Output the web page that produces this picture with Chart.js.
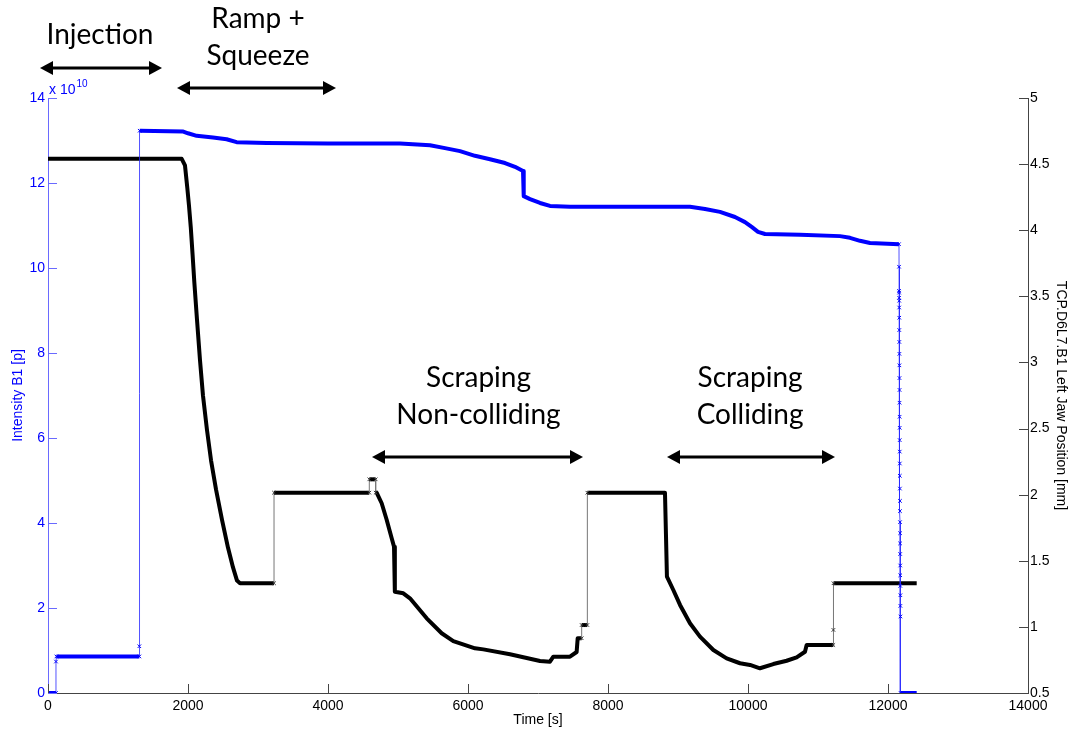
<!DOCTYPE html>
<html>
<head>
<meta charset="utf-8">
<script src="https://cdn.jsdelivr.net/npm/chart.js@4.4.0/dist/chart.umd.min.js"></script>
<style>
  body { margin: 0; background: #fff; }
  #wrap { width: 1071px; height: 731px; }
</style>
</head>
<body>
<div id="wrap"><canvas id="beamChart" width="1071" height="731"></canvas></div>
<script>
// Beam intensity B1 (units of 1e10 protons) vs time
const blueTime = [0, 114, 114, 120, 1305, 1305, 1310, 1933, 2000, 2124, 2357, 2552, 2695, 3124, 4000, 5029,
    5457, 5671, 5886, 6100, 6314, 6529, 6671, 6786, 6796, 6886, 7029, 7171, 7457, 8500, 9171, 9386, 9600,
    9814, 9957, 10057, 10143, 10243, 10743, 11314, 11457, 11600, 11743, 12157,
    12158, 12158, 12159, 12159, 12160, 12160, 12161, 12161, 12162, 12163, 12163, 12164, 12165, 12165, 12166,
    12167, 12167, 12168, 12169, 12169, 12170, 12171, 12171, 12172, 12173, 12173, 12174, 12175, 12175, 12176,
    12177, 12177, 12178, 12181, 12410];
const blueIntensity = [0, 0, 0.74, 0.86, 0.86, 1.1, 13.23, 13.21, 13.17, 13.11, 13.07, 13.03, 12.96, 12.94, 12.93, 12.93,
    12.89, 12.82, 12.75, 12.64, 12.56, 12.47, 12.38, 12.28, 11.69, 11.62, 11.53, 11.46, 11.44, 11.44, 11.44, 11.39, 11.32,
    11.2, 11.08, 10.96, 10.85, 10.80, 10.78, 10.75, 10.71, 10.64, 10.59, 10.56,
    10.03, 9.46, 9.42, 9.30, 9.23, 9.07, 8.83, 8.54, 8.26, 7.98, 7.71, 7.41, 7.13, 6.83, 6.50,
    6.24, 5.95, 5.68, 5.40, 5.11, 4.81, 4.52, 4.28, 4.02, 3.76, 3.52, 3.27, 3.00, 2.77, 2.52,
    2.30, 2.05, 1.80, 0, 0];

// TCP.D6L7.B1 left jaw position (mm) vs time
const blackTime = [0, 1910, 1957, 1990, 2015, 2040, 2065, 2090, 2129, 2171, 2214, 2271, 2329, 2400, 2486, 2571, 2643,
    2700, 2743, 3229, 3229, 4590, 4590, 4681, 4681, 4695, 4767, 4838, 4910, 4943, 4955, 5076, 5171, 5410,
    5624, 5790, 6100, 6219, 6600, 7029, 7171, 7219, 7457, 7552, 7567, 7624, 7624, 7705, 7705, 8814, 8828,
    8842, 8933, 9029, 9171, 9314, 9505, 9695, 9886, 10029, 10171, 10362, 10552, 10695, 10814, 10838, 11219,
    11220, 11222, 12410];
const blackJaw = [4.54, 4.54, 4.49, 4.32, 4.18, 4.02, 3.82, 3.61, 3.32, 3.02, 2.75, 2.49, 2.26, 2.04, 1.81, 1.60, 1.45,
    1.35, 1.33, 1.33, 2.015, 2.015, 2.116, 2.116, 2.015, 2.015, 1.935, 1.81, 1.67, 1.607, 1.266, 1.254, 1.216, 1.065,
    0.952, 0.893, 0.838, 0.83, 0.793, 0.742, 0.737, 0.775, 0.775, 0.81, 0.914, 0.914, 1.014, 1.014, 2.015, 2.015, 1.70,
    1.38, 1.279, 1.166, 1.027, 0.926, 0.825, 0.762, 0.725, 0.712, 0.687, 0.719, 0.744, 0.77, 0.812, 0.863, 0.863,
    0.977, 1.33, 1.33];

// Phase annotations (time in s, height in left-axis units)
const phaseLabels = [
    { lines: ['Injection'], t: 743, y: [15.48] },
    { lines: ['Ramp +', 'Squeeze'], t: 3000, y: [15.87, 15.0] },
    { lines: ['Scraping', 'Non-colliding'], t: 6150, y: [7.41, 6.54] },
    { lines: ['Scraping', 'Colliding'], t: 10030, y: [7.41, 6.54] }
];
const phaseArrows = [
    { from: -114, to: 1629, y: 14.71 },
    { from: 1843, to: 4114, y: 14.24 },
    { from: 4629, to: 7643, y: 5.55 },
    { from: 8843, to: 11243, y: 5.55 }
];

const axisFont = { family: 'Liberation Sans, Arial, sans-serif', size: 14 };

function toPoints(xs, ys) {
    return xs.map((x, i) => ({ x: x, y: ys[i] }));
}

// a segment with (almost) no time step is a jump between samples -> thin line
function isJump(p0, p1) {
    return Math.abs(p1.x - p0.x) < 8;
}

function markerRadius(ctx) {
    const d = ctx.dataset.data;
    const i = ctx.dataIndex;
    const prev = i > 0 && isJump(d[i - 1], d[i]);
    const next = i < d.length - 1 && isJump(d[i], d[i + 1]);
    return (prev || next) ? 2.5 : 0;
}

function drawArrow(ctx, x0, x1, y) {
    const head = 13, half = 7;
    ctx.save();
    ctx.strokeStyle = '#000';
    ctx.fillStyle = '#000';
    ctx.lineWidth = 3;
    ctx.beginPath();
    ctx.moveTo(x0 + head - 2, y);
    ctx.lineTo(x1 - head + 2, y);
    ctx.stroke();
    ctx.beginPath();
    ctx.moveTo(x0, y);
    ctx.lineTo(x0 + head, y - half);
    ctx.lineTo(x0 + head, y + half);
    ctx.closePath();
    ctx.fill();
    ctx.beginPath();
    ctx.moveTo(x1, y);
    ctx.lineTo(x1 - head, y - half);
    ctx.lineTo(x1 - head, y + half);
    ctx.closePath();
    ctx.fill();
    ctx.restore();
}

const decorations = {
    id: 'decorations',
    afterDraw(chart) {
        const ctx = chart.ctx;
        const xs = chart.scales.x, yl = chart.scales.y, yr = chart.scales.y1;
        const area = chart.chartArea;

        // inward tick marks
        ctx.save();
        ctx.lineWidth = 1;
        ctx.strokeStyle = '#444';
        xs.ticks.forEach(t => {
            const px = Math.round(xs.getPixelForValue(t.value)) + 0.5;
            ctx.beginPath(); ctx.moveTo(px, area.bottom); ctx.lineTo(px, area.bottom - 9); ctx.stroke();
        });
        yr.ticks.forEach(t => {
            const py = Math.round(yr.getPixelForValue(t.value)) + 0.5;
            ctx.beginPath(); ctx.moveTo(area.right, py); ctx.lineTo(area.right - 9, py); ctx.stroke();
        });
        ctx.strokeStyle = '#6a6aff';
        yl.ticks.forEach(t => {
            const py = Math.round(yl.getPixelForValue(t.value)) + 0.5;
            ctx.beginPath(); ctx.moveTo(area.left, py); ctx.lineTo(area.left + 9, py); ctx.stroke();
        });

        // exponent label of the left axis
        ctx.fillStyle = '#0000ff';
        ctx.textBaseline = 'alphabetic';
        ctx.textAlign = 'left';
        ctx.font = '14px Liberation Sans, Arial, sans-serif';
        ctx.fillText('x 10', area.left + 1, area.top - 4);
        const w = ctx.measureText('x 10').width;
        ctx.font = '10px Liberation Sans, Arial, sans-serif';
        ctx.fillText('10', area.left + 1 + w + 1, area.top - 11);
        ctx.restore();

        // phase annotations
        ctx.save();
        ctx.fillStyle = '#000';
        ctx.textAlign = 'center';
        ctx.textBaseline = 'middle';
        ctx.font = '28px Lato, "Open Sans", sans-serif';
        phaseLabels.forEach(l => {
            l.lines.forEach((s, k) => {
                ctx.fillText(s, xs.getPixelForValue(l.t), yl.getPixelForValue(l.y[k]));
            });
        });
        ctx.restore();
        phaseArrows.forEach(a => {
            drawArrow(ctx, xs.getPixelForValue(a.from), xs.getPixelForValue(a.to), Math.round(yl.getPixelForValue(a.y)));
        });
    }
};

const plainNumber = v => String(Math.round(v * 100) / 100);

const ctx = document.getElementById('beamChart').getContext('2d');
const beamChart = new Chart(ctx, {
    type: 'line',
    data: {
        datasets: [{
            label: 'Intensity B1',
            data: toPoints(blueTime, blueIntensity),
            yAxisID: 'y',
            borderColor: '#0000ff',
            borderWidth: 4,
            tension: 0,
            borderJoinStyle: 'round',
            pointStyle: 'crossRot',
            pointRadius: markerRadius,
            pointBorderWidth: 1,
            pointBorderColor: '#0000ff',
            segment: {
                borderWidth: c => isJump(c.p0.parsed, c.p1.parsed) ? 1 : 4,
                borderColor: c => isJump(c.p0.parsed, c.p1.parsed) ? 'rgba(40,40,255,0.8)' : '#0000ff'
            }
        }, {
            label: 'TCP.D6L7.B1 Left Jaw Position',
            data: toPoints(blackTime, blackJaw),
            yAxisID: 'y1',
            borderColor: '#000',
            borderWidth: 4,
            tension: 0,
            borderJoinStyle: 'round',
            pointStyle: 'crossRot',
            pointRadius: markerRadius,
            pointBorderWidth: 1,
            pointBorderColor: '#333',
            segment: {
                borderWidth: c => isJump(c.p0.parsed, c.p1.parsed) ? 1 : 4,
                borderColor: c => isJump(c.p0.parsed, c.p1.parsed) ? '#777' : '#000'
            }
        }]
    },
    options: {
        responsive: false,
        animation: false,
        layout: { padding: { top: 98, left: 0, right: 0, bottom: 0 } },
        plugins: {
            legend: { display: false },
            tooltip: { enabled: false }
        },
        scales: {
            x: {
                type: 'linear',
                min: 0,
                max: 14000,
                afterFit: s => { s.height = 38; },
                grid: { display: false, tickLength: 0 },
                border: { display: true, color: '#444', width: 1 },
                ticks: { stepSize: 2000, color: '#000', font: axisFont, padding: 5, maxRotation: 0, callback: plainNumber },
                title: { display: true, text: 'Time [s]', color: '#000', font: axisFont, padding: { top: 0, bottom: 2 } }
            },
            y: {
                position: 'left',
                min: 0,
                max: 14,
                afterFit: s => { s.width = 48; },
                grid: { display: false, tickLength: 0 },
                border: { display: true, color: '#6a6aff', width: 1 },
                ticks: { stepSize: 2, color: '#0000ff', font: axisFont, padding: 3, callback: plainNumber },
                title: { display: true, text: 'Intensity B1 [p]', color: '#0000ff', font: axisFont, padding: { top: 10, bottom: 0 } }
            },
            y1: {
                position: 'right',
                min: 0.5,
                max: 5,
                afterFit: s => { s.width = 43; },
                grid: { display: false, tickLength: 0 },
                border: { display: true, color: '#444', width: 1 },
                ticks: { stepSize: 0.5, color: '#000', font: axisFont, padding: 2, callback: plainNumber },
                title: { display: true, text: 'TCP.D6L7.B1 Left Jaw Position [mm]', color: '#000', font: axisFont, padding: { top: 2, bottom: 0 } }
            }
        }
    },
    plugins: [decorations]
});
</script>
</body>
</html>
